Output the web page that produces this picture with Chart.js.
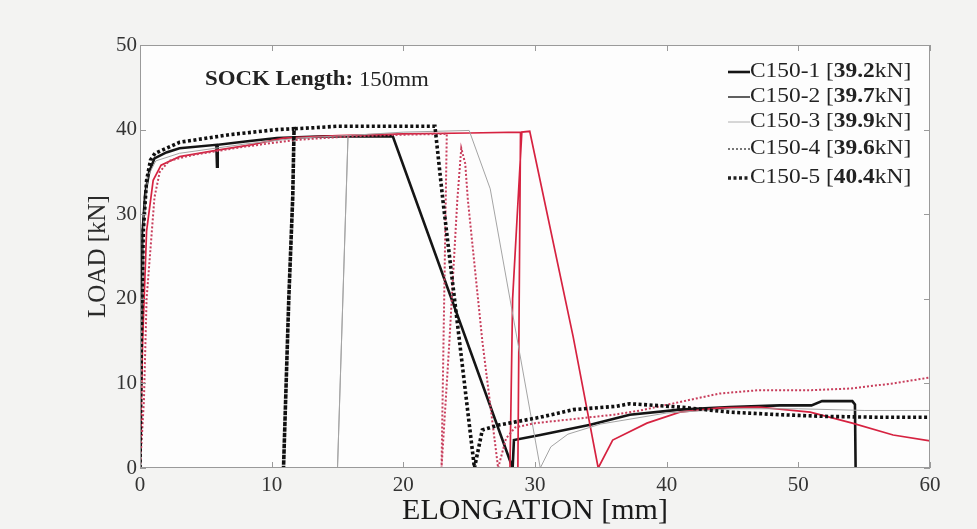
<!DOCTYPE html>
<html>
<head>
<meta charset="utf-8">
<script src="https://cdn.jsdelivr.net/npm/chart.js@4.4.1/dist/chart.umd.min.js"></script>
<style>
  html, body { margin: 0; padding: 0; background: #f3f3f2; }
  #wrap { width: 977px; height: 529px; }
</style>
</head>
<body>
<div id="wrap"><canvas id="loadChart" width="977" height="529"></canvas></div>
<script>
// Load vs elongation ([elongation mm, load kN])
const seriesNames = ['C150-1', 'C150-2', 'C150-3', 'C150-4', 'C150-5'];
const peakLoads = ['39.2', '39.7', '39.9', '39.6', '40.4'];
const xTicks = [0, 10, 20, 30, 40, 50, 60];
const yTicks = [0, 10, 20, 30, 40, 50];

const c150_1 = [[0,0],[0.1,15],[0.2,28],[0.4,32.5],[0.7,35],[1.1,36.6],[2,37.3],[3,37.8],[5.8,38.2],[5.85,35.6],[5.9,38.2],
  [8,38.6],[10.4,39.0],[14,39.2],[19.2,39.2],[28.3,0],[28.4,3.3],[30.4,3.9],[34.2,5.1],[37.2,6.3],[41,6.9],[44.8,7.2],
  [48.6,7.4],[51,7.4],[51.8,7.9],[54.1,7.9],[54.3,7.5],[54.35,0]];
const c150_2 = [[0,0],[0.2,15],[0.5,28],[1,34],[1.6,35.8],[3,36.8],[6,37.6],[8.4,38.2],[10.9,39],[15,39.3],[20,39.5],
  [25,39.6],[28.9,39.7],[28.8,20],[28.7,0],[28.1,0],[28.3,20],[29.0,39.7],[29.6,39.8],[32.9,15.5],[34.8,0],[35.9,3.3],
  [38.5,5.3],[41,6.6],[44,7.1],[47,7.2],[50.9,6.6],[54.1,5.3],[57.2,3.9],[60,3.2]];
const c150_3 = [[0,0],[0.15,20],[0.3,30],[0.6,34.5],[1.2,36.3],[3,37.2],[8,38.3],[12,39],[15.8,39.3],[15.0,0],[15.8,39.3],
  [20,39.7],[25.0,39.9],[26.6,33],[30.4,0],[31.2,2.5],[32.5,4],[35,5.2],[40,6.5],[45,7],[50,7],[55,6.8],[60,6.8]];
const c150_4 = [[0,0],[0.3,8],[0.5,20],[0.9,28],[1.1,32],[1.5,35],[2.2,36.3],[4,37],[8,38],[12,38.8],[16,39.2],[20,39.4],
  [23.3,39.5],[22.9,0],[23.5,15],[24.1,31.7],[24.4,37.8],[24.7,36],[24.9,31.7],[26,15],[27.2,0],[27.8,3.5],[28.5,4.8],
  [30,5.3],[33,5.8],[36,6.3],[38,6.8],[41,7.8],[44,8.8],[47,9.2],[51,9.2],[54,9.4],[57.2,10],[60,10.7]];
const c150_5 = [[0,0],[0.1,15],[0.25,28],[0.5,34],[0.8,36.4],[1.14,37.2],[3,38.5],[6.8,39.4],[10.4,40.0],[11.7,40.1],
  [11.6,32],[11.3,20],[10.9,0],[11.3,20],[11.6,32],[11.7,40.1],[13,40.2],[15,40.4],[18,40.4],[22.4,40.4],[23.0,31.7],
  [25.4,0],[26.0,4.5],[27.3,5.1],[30.4,6.0],[32.9,6.9],[36.2,7.3],[37.2,7.6],[41,7.2],[44.8,6.6],[48.6,6.3],[52,6.1],
  [56,6.0],[60,6.0]];

const serif = '"Liberation Serif", "Times New Roman", serif';

const styles = [
  { color: '#151515', width: 2.6, dash: [] },
  { color: 'rgb(214,34,64)', width: 1.7, dash: [] },
  { color: '#a4a4a4', width: 1, dash: [] },
  { color: 'rgb(200,62,92)', width: 2, dash: [2, 2] },
  { color: '#101010', width: 3.6, dash: [3, 2.5] }
];
const legendSwatch = ['#151515', '#444', '#b0b0b0', '#777', '#202020'];

const allSeries = [c150_1, c150_2, c150_3, c150_4, c150_5];

const datasets = allSeries.map((pts, i) => ({
  label: seriesNames[i],
  data: pts.map(p => ({ x: p[0], y: p[1] })),
  showLine: true,
  borderColor: styles[i].color,
  borderWidth: styles[i].width,
  borderDash: styles[i].dash,
  pointRadius: 0,
  tension: 0,
  order: 5 - i
}));

// draws text runs (text, font) one after another, squeezed/stretched horizontally by sx
function drawRuns(ctx, runs, x, y, sx) {
  ctx.save();
  ctx.translate(x, y);
  ctx.scale(sx, 1);
  let cx = 0;
  runs.forEach(([text, font]) => {
    ctx.font = font;
    ctx.fillText(text, cx, 0);
    cx += ctx.measureText(text).width;
  });
  ctx.restore();
}

// frame, inward ticks, annotation and the legend with mixed bold text
const decorations = {
  id: 'decorations',
  beforeDraw(chart) {
    const a = chart.chartArea;
    const ctx = chart.ctx;
    ctx.save();
    ctx.fillStyle = '#fdfdfd';
    ctx.fillRect(a.left, a.top, a.right - a.left, a.bottom - a.top);
    ctx.restore();
  },
  afterDraw(chart) {
    const a = chart.chartArea;
    const ctx = chart.ctx;
    const xs = chart.scales.x, ys = chart.scales.y;
    ctx.save();
    ctx.strokeStyle = '#9a9a9a';
    ctx.lineWidth = 1;
    ctx.strokeRect(a.left + 0.5, a.top + 0.5, a.right - a.left - 1, a.bottom - a.top - 1);
    ctx.beginPath();
    xTicks.forEach(v => {
      const px = Math.round(xs.getPixelForValue(v)) + 0.5;
      ctx.moveTo(px, a.bottom); ctx.lineTo(px, a.bottom - 6);
      ctx.moveTo(px, a.top); ctx.lineTo(px, a.top + 6);
    });
    yTicks.forEach(v => {
      const py = Math.round(ys.getPixelForValue(v)) + 0.5;
      ctx.moveTo(a.left, py); ctx.lineTo(a.left + 6, py);
      ctx.moveTo(a.right, py); ctx.lineTo(a.right - 6, py);
    });
    ctx.stroke();

    // annotation
    ctx.fillStyle = '#222';
    ctx.textBaseline = 'middle';
    drawRuns(ctx, [['SOCK Length: ', 'bold 21px ' + serif], ['150mm', '21px ' + serif]], 205, 80, 1.09);

    // legend
    const rowsY = [72, 97, 122, 149, 178];
    seriesNames.forEach((name, i) => {
      const y = rowsY[i];
      ctx.strokeStyle = legendSwatch[i];
      ctx.lineWidth = styles[i].width;
      ctx.setLineDash(styles[i].dash);
      ctx.beginPath();
      ctx.moveTo(728, y); ctx.lineTo(750, y);
      ctx.stroke();
      ctx.setLineDash([]);
      ctx.fillStyle = '#222';
      drawRuns(ctx, [
        [name + ' [', '20px ' + serif],
        [peakLoads[i], 'bold 20px ' + serif],
        ['kN]', '20px ' + serif]
      ], 750, y, 1.17);
    });
    ctx.restore();
  }
};

new Chart(document.getElementById('loadChart').getContext('2d'), {
  type: 'scatter',
  data: { datasets },
  options: {
    responsive: false,
    animation: false,
    layout: { padding: { left: 0, right: 47, top: 45, bottom: 0 } },
    plugins: { legend: { display: false }, tooltip: { enabled: false } },
    scales: {
      x: {
        type: 'linear',
        min: 0, max: 60,
        afterBuildTicks: s => { s.ticks = xTicks.map(v => ({ value: v })); },
        afterFit: s => { s.height = 61; },
        grid: { display: false, drawTicks: false },
        border: { display: false },
        ticks: { color: '#333', font: { family: serif, size: 21 }, padding: 5 },
        title: { display: true, text: 'ELONGATION [mm]', color: '#1a1a1a',
                 font: { family: serif, size: 30 }, padding: { top: 4, bottom: 0 } }
      },
      y: {
        type: 'linear',
        min: 0, max: 50,
        afterBuildTicks: s => { s.ticks = yTicks.map(v => ({ value: v })); },
        afterFit: s => { s.width = 140; },
        grid: { display: false, drawTicks: false },
        border: { display: false },
        ticks: { color: '#333', font: { family: serif, size: 21 }, padding: 3 },
        title: { display: true, text: 'LOAD [kN]', color: '#2a2a2a',
                 font: { family: serif, size: 25 }, padding: { top: 83, bottom: 0 } }
      }
    }
  },
  plugins: [decorations]
});
</script>
</body>
</html>
